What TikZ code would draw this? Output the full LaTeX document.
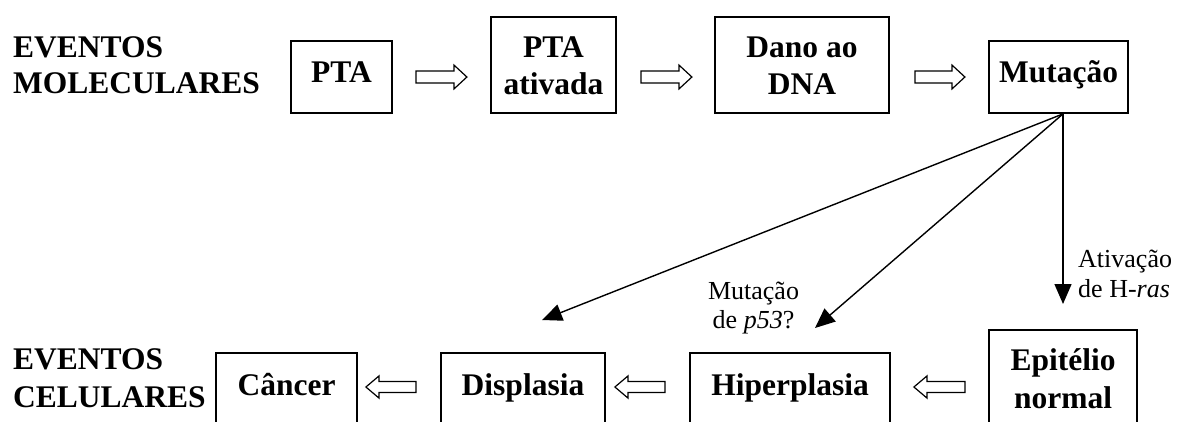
\documentclass[tikz,border=0pt]{standalone}
\usepackage{fontspec}
\setmainfont{Liberation Serif}
\usetikzlibrary{arrows.meta,calc}
\begin{document}
\begin{tikzpicture}[x=1pt,y=-1pt,
  box/.style={draw,line width=1.8pt,inner sep=0pt},
  btxt/.style={font=\fontsize{31.5}{36}\selectfont\bfseries,anchor=base,inner sep=0pt},
  ttl/.style={btxt,anchor=base west},
  rtxt/.style={font=\fontsize{26}{30}\selectfont,anchor=base,inner sep=0pt},
  hol/.style={draw,line width=1.2pt,line join=miter},
  conn/.style={line width=1.4pt,-{Triangle[length=20pt,width=17pt]}}]
\useasboundingbox (0,0) rectangle (1178,421);
\clip (0,0) rectangle (1178,421);
% boxes
\node[box,minimum width=101pt,minimum height=72pt] (pta) at (341.5,77) {};
\node[box,minimum width=125pt,minimum height=96pt] (ptaat) at (553.5,65) {};
\node[box,minimum width=174pt,minimum height=96pt] (dano) at (802,65) {};
\node[box,minimum width=139pt,minimum height=72pt] (mut) at (1058.5,77) {};
\node[box,minimum width=141pt,minimum height=72pt] (cancer) at (286.5,389) {};
\node[box,minimum width=164pt,minimum height=72pt] (disp) at (523,389) {};
\node[box,minimum width=200pt,minimum height=72pt] (hiper) at (790,389) {};
\node[box,minimum width=148pt,minimum height=96pt] (epi) at (1063,378) {};
% titles
\node[ttl] (t1) at (13,57) {EVENTOS};
\node[ttl] (t2) at (13,93) {MOLECULARES};
\node[ttl] (t3) at (13,369) {EVENTOS};
\node[ttl] (t4) at (13,407) {CELULARES};
% box texts
\node[btxt] (ptaL) at (341.5,82) {PTA};
\node[btxt] (ptaatL1) at (553.5,57) {PTA};
\node[btxt] (ptaatL2) at (553.5,94) {ativada};
\node[btxt] (danoL1) at (802,57) {Dano ao};
\node[btxt] (danoL2) at (802,94) {DNA};
\node[btxt] (mutL) at (1058.5,82) {Mutação};
\node[btxt] (cancerL) at (286.5,395) {Câncer};
\node[btxt] (dispL) at (523,395) {Displasia};
\node[btxt] (hiperL) at (790,395) {Hiperplasia};
\node[btxt] (epiL1) at (1063,370) {Epitélio};
\node[btxt] (epiL2) at (1063,408) {normal};
% hollow arrows (top, pointing right)
\draw[hol] ($(pta.east)+(23,-6)$) -- ++(38,0) -- ++(0,-6) -- ++(13,12) -- ++(-13,12) -- ++(0,-6) -- ++(-38,0) -- cycle;
\draw[hol] ($(ptaat.east |- pta.east)+(24,-6)$) -- ++(38,0) -- ++(0,-6) -- ++(13,12) -- ++(-13,12) -- ++(0,-6) -- ++(-38,0) -- cycle;
\draw[hol] ($(dano.east |- mut.west)+(25,-6)$) -- ++(37,0) -- ++(0,-6) -- ++(13,12) -- ++(-13,12) -- ++(0,-6) -- ++(-37,0) -- cycle;
% hollow arrows (bottom, pointing left)
\draw[hol] ($(cancer.east)+(8,-2)$) -- ++(13,-11) -- ++(0,5.5) -- ++(37,0) -- ++(0,11) -- ++(-37,0) -- ++(0,5.5) -- cycle;
\draw[hol] ($(disp.east)+(9,-2)$) -- ++(13,-11) -- ++(0,5.5) -- ++(37,0) -- ++(0,11) -- ++(-37,0) -- ++(0,5.5) -- cycle;
\draw[hol] ($(hiper.east)+(23,-2)$) -- ++(13,-11) -- ++(0,5.5) -- ++(38,0) -- ++(0,11) -- ++(-38,0) -- ++(0,5.5) -- cycle;
% connectors
\coordinate (src) at (mut.south -| epi.north);
\coordinate (tipD) at (542,320);
\coordinate (tipH) at (815,328);
\coordinate (tipE) at (1063,304);
\draw[conn] (src) -- (tipD);
\draw[conn] (src) -- (tipH);
\draw[conn] (src) -- (tipE);
% labels
\node[rtxt] (lab1a) at (753.5,299) {Mutação};
\node[rtxt] (lab1b) at (753.5,328) {de \textit{p53}?};
\node[rtxt,anchor=base west] (lab2a) at (1078,267) {Ativação};
\node[rtxt,anchor=base west] (lab2b) at (1078,297) {de H-\textit{ras}};
\end{tikzpicture}
\end{document}
